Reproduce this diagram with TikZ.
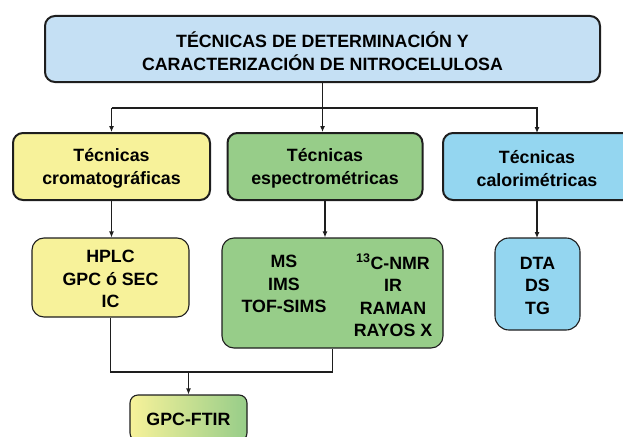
\documentclass[tikz,border=0pt]{standalone}
\usepackage{fontspec}
\setmainfont{Liberation Sans}
\usetikzlibrary{arrows.meta}
\definecolor{topblue}{RGB}{197,224,244}
\definecolor{yl}{RGB}{247,242,154}
\definecolor{gn}{RGB}{151,205,137}
\definecolor{bl}{RGB}{148,214,240}
\definecolor{edge}{RGB}{30,30,30}
\begin{document}
\begin{tikzpicture}[x=1pt,y=-1pt,
  font=\fontsize{17.8}{22.5}\selectfont\bfseries,
  bigbox/.style={draw=edge,line width=2pt,rounded corners=10pt,align=center,inner sep=0pt},
  smallbox/.style={draw=edge,line width=1.1pt,rounded corners=12pt,align=center,inner sep=0pt},
  txt/.style={align=center,inner sep=0pt},
  conn/.style={draw=edge,line width=1.1pt},
  arr/.style={conn,-{Latex[length=6pt,width=5pt]}}]
\useasboundingbox (0,0) rectangle (623,436);
% top
\node[bigbox,fill=topblue,minimum width=555pt,minimum height=66pt] (top) at (322.5,49) {};
\node[txt] (toptxt) at (322.5,51) {TÉCNICAS DE DETERMINACIÓN Y\\CARACTERIZACIÓN DE NITROCELULOSA};
% middle
\node[bigbox,fill=yl,minimum width=197pt,minimum height=67pt] (ymid) at (111.5,166.5) {};
\node[txt] (ymidtxt) at (111.5,168.5) {Técnicas\\cromatográficas};
\node[bigbox,fill=gn,minimum width=195pt,minimum height=67pt] (gmid) at (325,166.5) {};
\node[txt] (gmidtxt) at (325,168.5) {Técnicas\\espectrométricas};
\node[bigbox,fill=bl,minimum width=190pt,minimum height=67pt] (bmid) at (538,166.5) {};
\node[txt] (bmidtxt) at (537,168.5) {Técnicas\\calorimétricas};
% lower
\node[smallbox,fill=yl,minimum width=157pt,minimum height=79pt] (ylow) at (110.5,277.5) {};
\node[txt] (ylowtxt) at (110.5,279) {HPLC\\GPC ó SEC\\IC};
\node[smallbox,fill=gn,minimum width=221pt,minimum height=110pt] (glow) at (332.5,293) {};
\node[txt] (glowl) at (284,284) {MS\\IMS\\TOF-SIMS};
\node[txt] (glowr) at (393,295.5) {\textsuperscript{13}C-NMR\\IR\\RAMAN\\RAYOS X};
\node[smallbox,fill=bl,minimum width=85pt,minimum height=92pt,rounded corners=14pt] (blow) at (537.5,284) {};
\node[txt] (blowtxt) at (537.5,285.5) {DTA\\DS\\TG};
\node[smallbox,left color=yl,right color=gn,minimum width=117pt,minimum height=46pt,rounded corners=8pt] (gpc) at (188.5,418) {};
\node[txt] (gpctxt) at (188.5,419) {GPC-FTIR};
% connectors
\coordinate (hbar) at (0,108);
\coordinate (jn) at (0,372);
\draw[arr] (top.south) -- (top.south |- gmid.north);
\draw[conn] (ymid.north |- hbar) -- (bmid.north |- hbar);
\draw[arr] (ymid.north |- hbar) -- (ymid.north);
\draw[arr] (537,108) -- (537,133);
\draw[arr] (ymid.south) -- (ymid.south |- ylow.north);
\draw[arr] (gmid.south) -- (gmid.south |- glow.north);
\draw[arr] (537,200) -- (537,238);
\draw[conn] (ylow.south) -- (ylow.south |- jn) -- (glow.south |- jn) -- (glow.south);
\draw[arr] (gpc.north |- jn) -- (gpc.north);
\end{tikzpicture}
\end{document}
